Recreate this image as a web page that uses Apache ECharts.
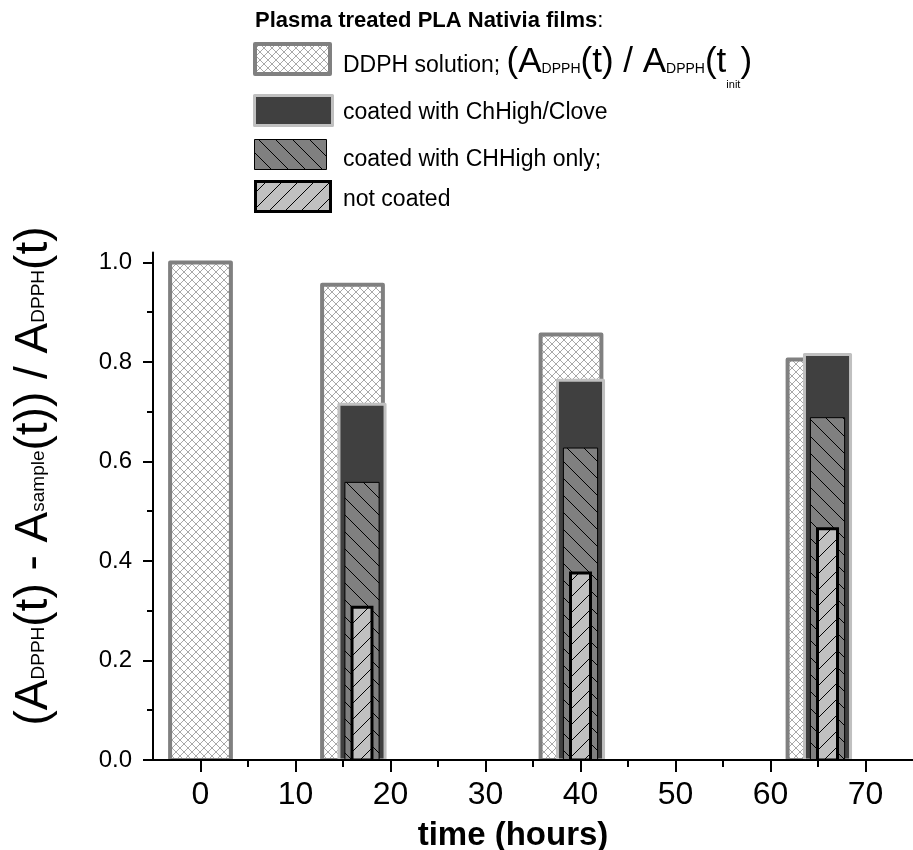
<!DOCTYPE html>
<html>
<head>
<meta charset="utf-8">
<script src="https://cdn.jsdelivr.net/npm/echarts@6/dist/echarts.min.js"></script>
<style>
  html, body { margin: 0; padding: 0; background: #fff; }
</style>
</head>
<body>
<div id="container-bars" style="width:913px; height:850px;"></div>

<script type="text/javascript">
// values
var ddphTime = [0, 16, 39, 65];
var ddphValue = [1.0, 0.955, 0.855, 0.805];
var sampleTime = [17, 40, 66];
var cloveValue = [0.715, 0.763, 0.815];
var chHighValue = [0.558, 0.627, 0.688];
var notCoatedValue = [0.307, 0.376, 0.465];

var xMajorTicks = [0, 10, 20, 30, 40, 50, 60, 70];
var xMinorTicks = [5, 15, 25, 35, 45, 55, 65];
var yMajorTicks = [0, 0.2, 0.4, 0.6, 0.8, 1.0];
var yMinorTicks = [0.1, 0.3, 0.5, 0.7, 0.9];

var FONT = "'Liberation Sans', Arial, sans-serif";

function pairs(xs, ys) {
	var out = [];
	for (var i = 0; i < xs.length; i++) out.push([xs[i], ys[i]]);
	return out;
}

// fill patterns
function crossHatch() {
	var c = document.createElement('canvas');
	c.width = 8; c.height = 8;
	var g = c.getContext('2d');
	g.fillStyle = '#ffffff';
	g.fillRect(0, 0, 8, 8);
	g.strokeStyle = '#a8a8a8';
	g.lineWidth = 1;
	g.beginPath();
	g.moveTo(0, 0); g.lineTo(8, 8);
	g.moveTo(8, 0); g.lineTo(0, 8);
	g.stroke();
	return { image: c, repeat: 'repeat' };
}

function hatch(size, bg, back) {
	var c = document.createElement('canvas');
	c.width = size; c.height = size;
	var g = c.getContext('2d');
	g.fillStyle = bg;
	g.fillRect(0, 0, size, size);
	g.strokeStyle = '#000000';
	g.lineWidth = 1;
	g.beginPath();
	for (var k = -1; k <= 2; k++) {
		if (back) { g.moveTo(0, k * size); g.lineTo(size, k * size + size); }
		else { g.moveTo(0, k * size); g.lineTo(size, k * size - size); }
	}
	g.stroke();
	return { image: c, repeat: 'repeat' };
}

var ddphFill = crossHatch();
var chHighFill = hatch(17, '#808080', true);
var notCoatedFill = hatch(16, '#c0c0c0', false);

function barRenderer(w, style) {
	return function (params, api) {
		var x = api.value(0), y = api.value(1);
		var p0 = api.coord([x - w / 2, y]);
		var p1 = api.coord([x + w / 2, 0]);
		return {
			type: 'rect',
			shape: { x: p0[0], y: p0[1], width: p1[0] - p0[0], height: p1[1] - p0[1] },
			style: style
		};
	};
}

// rich token whose baseline sits d px above the line bottom
function tok(size, d, extra) {
	var h = 2 * (d + 0.3465 * size);
	var s = { fontSize: size, fontFamily: FONT, lineHeight: h, height: h, verticalAlign: 'bottom' };
	for (var k in extra) s[k] = extra[k];
	return s;
}

var dom = document.getElementById("container-bars");
var myChart = echarts.init(dom);

var option = {
	backgroundColor: '#ffffff',
	animation: false,
	grid: { left: 153, right: 0, top: 252.5, bottom: 90 },
	xAxis: [{
		type: 'value', min: -5, max: 75, z: 5,
		axisLine: { onZero: false, lineStyle: { color: '#000', width: 2 } },
		axisTick: { customValues: xMajorTicks, length: 12, lineStyle: { color: '#000', width: 2 } },
		axisLabel: { customValues: xMajorTicks, fontSize: 32, color: '#000', fontFamily: FONT, margin: 19 },
		splitLine: { show: false }
	}, {
		type: 'value', min: -5, max: 75, position: 'bottom', z: 5,
		axisLine: { show: false, onZero: false },
		axisTick: { customValues: xMinorTicks, length: 7, lineStyle: { color: '#000', width: 2 } },
		axisLabel: { show: false },
		splitLine: { show: false }
	}],
	yAxis: [{
		type: 'value', min: 0, max: 1.02, z: 5,
		axisLine: { show: true, onZero: false, lineStyle: { color: '#000', width: 2 } },
		axisTick: { show: true, customValues: yMajorTicks, length: 10, lineStyle: { color: '#000', width: 2 } },
		axisLabel: {
			customValues: yMajorTicks, fontSize: 24, color: '#000', fontFamily: FONT, margin: 21,
			formatter: function (v) { return v.toFixed(1); }
		},
		splitLine: { show: false }
	}, {
		type: 'value', min: 0, max: 1.02, position: 'left', z: 5,
		axisLine: { show: false, onZero: false },
		axisTick: { show: true, customValues: yMinorTicks, length: 6, lineStyle: { color: '#000', width: 2 } },
		axisLabel: { show: false },
		splitLine: { show: false }
	}],
	series: [{
		name: 'DDPH solution',
		type: 'custom', clip: true,
		renderItem: barRenderer(6.4, { fill: ddphFill, stroke: '#808080', lineWidth: 4, lineJoin: 'round' }),
		data: pairs(ddphTime, ddphValue)
	}, {
		name: 'coated with ChHigh/Clove',
		type: 'custom', clip: true,
		renderItem: barRenderer(4.85, { fill: '#404040', stroke: '#c0c0c0', lineWidth: 3, lineJoin: 'round' }),
		data: pairs(sampleTime, cloveValue)
	}, {
		name: 'coated with CHHigh only',
		type: 'custom', clip: true,
		renderItem: barRenderer(3.6, { fill: chHighFill, stroke: '#000000', lineWidth: 1 }),
		data: pairs(sampleTime, chHighValue)
	}, {
		name: 'not coated',
		type: 'custom', clip: true,
		renderItem: barRenderer(2.1, { fill: notCoatedFill, stroke: '#000000', lineWidth: 3 }),
		data: pairs(sampleTime, notCoatedValue)
	}],
	graphic: [
		// legend
		{ type: 'text', x: 255, y: 20.5, style: {
			text: '{b|Plasma treated PLA Nativia films}{n|:}', verticalAlign: 'middle', fill: '#000',
			rich: { b: { fontSize: 22, fontWeight: 'bold', fontFamily: FONT }, n: { fontSize: 22, fontFamily: FONT } }
		} },
		{ type: 'rect', shape: { x: 255, y: 44, width: 75, height: 30 },
		  style: { fill: ddphFill, stroke: '#808080', lineWidth: 4, lineJoin: 'round' } },
		{ type: 'text', x: 343, y: 92, style: {
			text: '{n|DDPH solution; }{b|(A}{s|DPPH}{b|(t) / A}{s|DPPH}{b|(t}{i|init}{b|)}',
			verticalAlign: 'bottom', fill: '#000',
			rich: { n: tok(23, 18), b: tok(35, 18), s: tok(14, 18), i: tok(11, 3) }
		} },
		{ type: 'rect', shape: { x: 254.5, y: 95.5, width: 78, height: 30 },
		  style: { fill: '#404040', stroke: '#c0c0c0', lineWidth: 3, lineJoin: 'round' } },
		{ type: 'text', x: 343, y: 113, style: { text: 'coated with ChHigh/Clove', verticalAlign: 'middle', fontSize: 23, fontFamily: FONT, fill: '#000' } },
		{ type: 'rect', shape: { x: 254.5, y: 139.5, width: 72, height: 30 },
		  style: { fill: chHighFill, stroke: '#000', lineWidth: 1 } },
		{ type: 'text', x: 343, y: 160, style: { text: 'coated with CHHigh only;', verticalAlign: 'middle', fontSize: 23, fontFamily: FONT, fill: '#000' } },
		{ type: 'rect', shape: { x: 255.5, y: 181.5, width: 75, height: 30 },
		  style: { fill: notCoatedFill, stroke: '#000', lineWidth: 3 } },
		{ type: 'text', x: 343, y: 200, style: { text: 'not coated', verticalAlign: 'middle', fontSize: 23, fontFamily: FONT, fill: '#000' } },
		// axis titles
		{ type: 'text', x: 513, y: 835.5, style: {
			text: 'time (hours)', align: 'center', verticalAlign: 'middle',
			fontSize: 33, fontWeight: 'bold', fontFamily: FONT, fill: '#000'
		} },
		{ type: 'text', x: 58, y: 476, rotation: Math.PI / 2, style: {
			text: '{b|(A}{s|DPPH}{b|(t) - A}{s|sample}{b|(t)) / A}{s|DPPH}{b|(t)}',
			align: 'center', verticalAlign: 'bottom', fill: '#000',
			rich: { b: tok(46, 8), s: tok(19, 13) }
		} }
	]
};

myChart.setOption(option);
</script>
</body>
</html>
